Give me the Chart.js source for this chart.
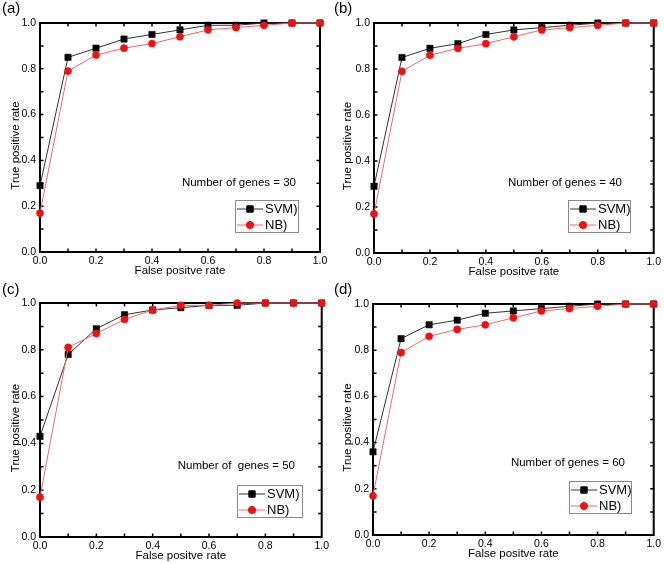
<!DOCTYPE html>
<html><head><meta charset="utf-8">
<script src="https://cdn.jsdelivr.net/npm/chart.js@4.4.0/dist/chart.umd.min.js"></script>
<style>
html,body{margin:0;padding:0;background:#fff;}
#wrap{position:relative;width:664px;height:563px;overflow:hidden;}
canvas{position:absolute;}
</style></head><body>
<div id="wrap">
<canvas id="ca" width="332" height="281" style="left:0px;top:0px;width:332px;height:281px"></canvas>
<canvas id="cb" width="332" height="281" style="left:332px;top:0px;width:332px;height:281px"></canvas>
<canvas id="cc" width="332" height="282" style="left:0px;top:281px;width:332px;height:282px"></canvas>
<canvas id="cd" width="332" height="282" style="left:332px;top:281px;width:332px;height:282px"></canvas>
</div>
<script>
// ---- data ----
const fpr   = [0.0, 0.1, 0.2, 0.3, 0.4, 0.5, 0.6, 0.7, 0.8, 0.9, 1.0];
const svm30 = [0.29, 0.85, 0.89, 0.93, 0.95, 0.97, 0.99, 0.99, 1.0, 1.0, 1.0];
const nb30  = [0.17, 0.79, 0.86, 0.89, 0.91, 0.94, 0.97, 0.98, 0.99, 1.0, 1.0];
const svm40 = [0.29, 0.85, 0.89, 0.91, 0.95, 0.97, 0.98, 0.99, 1.0, 1.0, 1.0];
const nb40  = [0.17, 0.79, 0.86, 0.89, 0.91, 0.94, 0.97, 0.98, 0.99, 1.0, 1.0];
const svm50 = [0.43, 0.78, 0.89, 0.95, 0.97, 0.98, 0.99, 0.99, 1.0, 1.0, 1.0];
const nb50  = [0.17, 0.81, 0.87, 0.93, 0.97, 0.99, 0.99, 1.0, 1.0, 1.0, 1.0];
const svm60 = [0.36, 0.85, 0.91, 0.93, 0.96, 0.97, 0.98, 0.99, 1.0, 1.0, 1.0];
const nb60  = [0.17, 0.79, 0.86, 0.89, 0.91, 0.94, 0.97, 0.98, 0.99, 1.0, 1.0];
const panelTags  = ["(a)", "(b)", "(c)", "(d)"];
const panelNotes = ["Number of genes = 30", "Number of genes = 40", "Number of  genes = 50", "Number of genes = 60"];
const seriesNames = ["SVM)", "NB)"];
const xTitle = "False positve rate";
const yTitle = "True positive rate";

const FONT = '"Liberation Sans", Arial, Helvetica, sans-serif';
const SVM_COLOR = '#000000', SVM_LINE = '#333333';
const NB_COLOR = '#ee1111', NB_LINE = '#ec6a6a';

const panels = [
  {id:'ca', tag:panelTags[0], note:panelNotes[0], svm:svm30, nb:nb30, area:{l:40,r:320,t:23,b:252}, H:281, noteR:296, noteY:183, leg:{x:235,y:200,w:63,h:32}},
  {id:'cb', tag:panelTags[1], note:panelNotes[1], svm:svm40, nb:nb40, area:{l:42,r:323,t:23,b:253}, H:281, noteR:290, noteY:183, leg:{x:236,y:200,w:62,h:32}},
  {id:'cc', tag:panelTags[2], note:panelNotes[2], svm:svm50, nb:nb50, area:{l:40,r:325,t:22,b:256}, H:282, noteR:295, noteY:185, leg:{x:237,y:204,w:65,h:32}},
  {id:'cd', tag:panelTags[3], note:panelNotes[3], svm:svm60, nb:nb60, area:{l:41,r:324,t:23,b:254}, H:282, noteR:293, noteY:182, leg:{x:237,y:200,w:62,h:32}},
];

const decorPlugin = {
  id: 'decor',
  beforeDatasetsDraw(chart, args, opts) {
    const ctx = chart.ctx, a = chart.chartArea;
    const xs = chart.scales.x, ys = chart.scales.y;
    ctx.save();
    // inward ticks on all sides
    ctx.strokeStyle = '#000'; ctx.lineWidth = 1.5;
    const L = 3.5;
    for (let i = 1; i < 10; i++) {
      const v = i / 10;
      const px = xs.getPixelForValue(v), py = ys.getPixelForValue(v);
      ctx.beginPath();
      ctx.moveTo(px, a.bottom); ctx.lineTo(px, a.bottom - L);
      ctx.moveTo(px, a.top); ctx.lineTo(px, a.top + L);
      ctx.moveTo(a.left, py); ctx.lineTo(a.left + L, py);
      ctx.moveTo(a.right, py); ctx.lineTo(a.right - L, py);
      ctx.stroke();
    }
    // frame
    ctx.lineWidth = 2;
    ctx.strokeRect(a.left, a.top, a.right - a.left, a.bottom - a.top);
    ctx.restore();
  },
  afterDraw(chart, args, opts) {
    const ctx = chart.ctx, a = chart.chartArea;
    const p = opts.panel;
    ctx.save();
    ctx.fillStyle = '#000';
    // panel tag
    ctx.font = '15px ' + FONT;
    ctx.textAlign = 'left'; ctx.textBaseline = 'middle';
    ctx.fillText(p.tag, 2, 9);
    // y title
    ctx.font = '11.5px ' + FONT;
    ctx.translate(16, (a.top + a.bottom) / 2 + 8);
    ctx.rotate(-Math.PI / 2);
    ctx.textAlign = 'center';
    ctx.fillText(yTitle, 0, 0);
    ctx.restore();
    ctx.save();
    // note
    ctx.fillStyle = '#000';
    ctx.font = '11.5px ' + FONT;
    ctx.textAlign = 'right'; ctx.textBaseline = 'middle';
    ctx.fillText(p.note, p.noteR, p.noteY);
    // legend box
    const g = p.leg;
    ctx.fillStyle = '#fff';
    ctx.fillRect(g.x, g.y, g.w, g.h);
    ctx.strokeStyle = '#8a8a8a'; ctx.lineWidth = 1;
    ctx.strokeRect(g.x + 0.5, g.y + 0.5, g.w, g.h);
    const rows = [
      {name: seriesNames[0], line: SVM_LINE, col: SVM_COLOR, style: 'rect', r: 4.5, y: g.y + 9},
      {name: seriesNames[1], line: NB_LINE, col: NB_COLOR, style: 'circle', r: 3.6, y: g.y + 25},
    ];
    rows.forEach(rw => {
      ctx.strokeStyle = rw.line; ctx.lineWidth = 1;
      ctx.beginPath(); ctx.moveTo(g.x + 2, rw.y); ctx.lineTo(g.x + 28, rw.y); ctx.stroke();
      ctx.fillStyle = rw.col; ctx.strokeStyle = rw.col;
      Chart.helpers.drawPoint(ctx, {pointStyle: rw.style, radius: rw.r, borderWidth: 0.5, rotation: 0}, g.x + 15, rw.y);
      ctx.fillStyle = '#000';
      ctx.font = '13px ' + FONT;
      ctx.textAlign = 'left'; ctx.textBaseline = 'middle';
      ctx.fillText(rw.name, g.x + 30, rw.y + 0.5);
    });
    ctx.restore();
  }
};

panels.forEach(p => {
  const W = 332, H = p.H;
  const PL = 9;
  const XH = 26;
  const a = p.area;
  new Chart(document.getElementById(p.id), {
    type: 'line',
    data: {
      datasets: [
        {label: seriesNames[0], data: fpr.map((x, i) => ({x: x, y: p.svm[i]})),
         borderColor: SVM_LINE, borderWidth: 1, backgroundColor: SVM_COLOR,
         pointStyle: 'rect', pointRadius: 4.5, pointBorderWidth: 0.5,
         pointBackgroundColor: SVM_COLOR, pointBorderColor: SVM_COLOR,
         tension: 0, clip: false, order: 1},
        {label: seriesNames[1], data: fpr.map((x, i) => ({x: x, y: p.nb[i]})),
         borderColor: NB_LINE, borderWidth: 1, backgroundColor: NB_COLOR,
         pointStyle: 'circle', pointRadius: 3.6, pointBorderWidth: 0.5,
         pointBackgroundColor: NB_COLOR, pointBorderColor: NB_COLOR,
         tension: 0, clip: false, order: 0},
      ]
    },
    options: {
      responsive: false, animation: false, devicePixelRatio: 1,
      layout: {padding: {left: PL, top: a.t, right: W - a.r, bottom: H - a.b - XH}},
      plugins: {legend: {display: false}, tooltip: {enabled: false}, decor: {panel: p}},
      scales: {
        x: {type: 'linear', min: 0, max: 1,
            ticks: {stepSize: 0.2, color: '#000', padding: 3, maxRotation: 0,
                    font: {family: FONT, size: 10.5}, callback: v => Number(v).toFixed(1)},
            grid: {display: false, drawTicks: false}, border: {display: false},
            title: {display: true, text: xTitle, color: '#000', padding: {top: 0, bottom: 0},
                    font: {family: FONT, size: 11.5}},
            afterFit: s => { s.height = XH; }},
        y: {type: 'linear', min: 0, max: 1,
            ticks: {stepSize: 0.2, color: '#000', padding: 4,
                    font: {family: FONT, size: 10.5}, callback: v => Number(v).toFixed(1)},
            grid: {display: false, drawTicks: false}, border: {display: false},
            afterFit: s => { s.width = a.l - PL; }}
      }
    },
    plugins: [decorPlugin]
  });
});
</script>
</body></html>
